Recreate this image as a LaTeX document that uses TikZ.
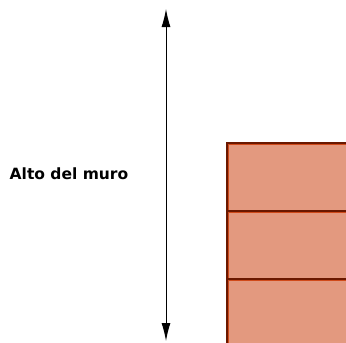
\documentclass[tikz,border=0pt]{standalone}
\usepackage{fontspec}
\setmainfont{DejaVu Sans}
\usetikzlibrary{positioning}
\usetikzlibrary{arrows.meta}
\definecolor{brickfill}{HTML}{E3997F}
\definecolor{brickedge}{HTML}{D04A1A}
\definecolor{brickcore}{HTML}{6A1800}

\begin{document}
\begin{tikzpicture}[x=1pt,y=-1pt,>={Latex[length=18pt,width=9pt]},
  brick/.style={fill=brickfill,draw=brickedge,line width=3pt},
  mortar/.style={draw=brickcore,line width=1.2pt}]
  \useasboundingbox (0,0) rectangle (346,343);
  % courses of the wall
  \foreach \y in {143,211,279} {
    \path[brick] (227,\y) rectangle (360,\y+68);
    \draw[mortar] (227,\y+68) |- (360,\y);
  }
  \coordinate (top) at (166,9);
  \coordinate (bottom) at (166,341);
  \draw[<->,line width=1pt] (top) -- (bottom);
  \node[font=\bfseries\fontsize{15.5}{18}\selectfont] (height) at (69,174) {Alto del muro};
\end{tikzpicture}
\end{document}
